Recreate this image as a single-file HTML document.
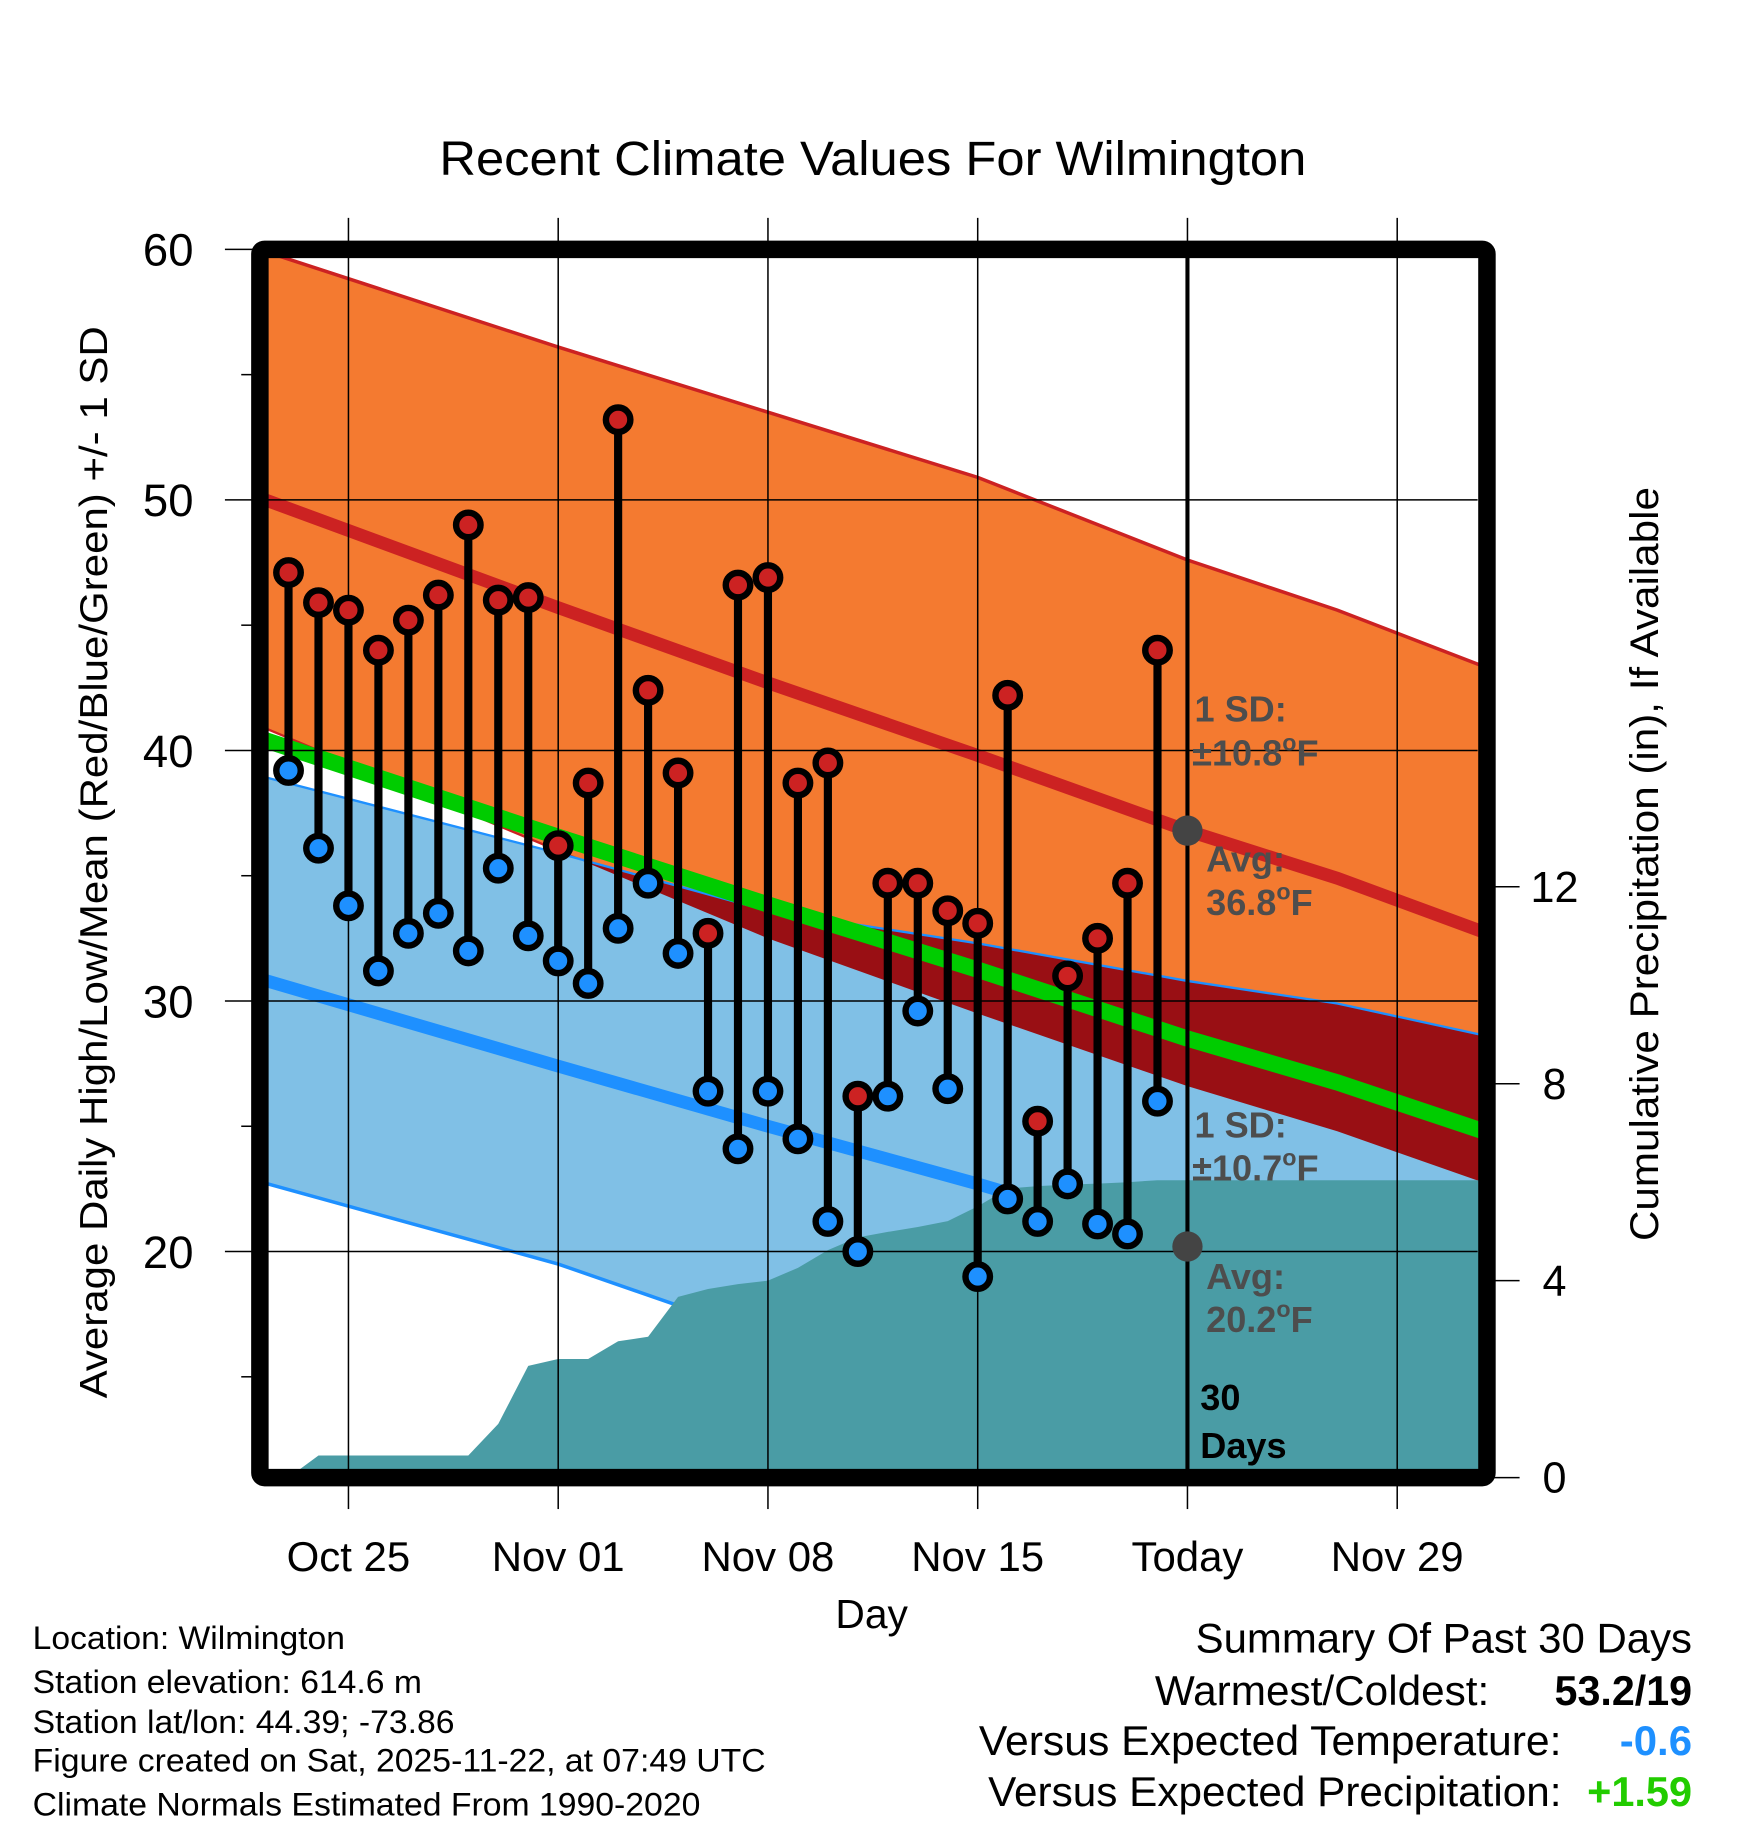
<!DOCTYPE html>
<html><head><meta charset="utf-8"><style>
html,body{margin:0;padding:0;background:#fff}
svg{display:block}
text{font-family:"Liberation Sans",Arial,sans-serif}
</style></head><body>
<svg id="chart" width="1748" height="1828" viewBox="0 0 1500 1568.7" xmlns="http://www.w3.org/2000/svg">
<defs><clipPath id="plotclip"><rect x="230" y="221" width="1039" height="1040"/></clipPath></defs>
<g id="plot" clip-path="url(#plotclip)"></g>
<g id="axes"></g>
<text x="377" y="150" font-size="41" textLength="744" lengthAdjust="spacingAndGlyphs">Recent Climate Values For Wilmington</text>
<text transform="translate(92,1200) rotate(-90)" font-size="33" textLength="920" lengthAdjust="spacingAndGlyphs">Average Daily High/Low/Mean (Red/Blue/Green) +/- 1 SD</text>
<text transform="translate(1423,1065) rotate(-90)" font-size="34" textLength="647" lengthAdjust="spacingAndGlyphs">Cumulative Precipitation (in), If Available</text>
<text x="748" y="1397" font-size="35" text-anchor="middle">Day</text>
<g font-size="31" font-weight="bold" fill="#4d4d4d">
<text x="1025" y="619">1 SD:</text><text x="1023" y="657">±10.8<tspan font-size="20" dy="-13">o</tspan><tspan dy="13">F</tspan></text>
<text x="1035" y="748">Avg:</text><text x="1035" y="785">36.8<tspan font-size="20" dy="-13">o</tspan><tspan dy="13">F</tspan></text>
<text x="1025" y="976">1 SD:</text><text x="1023" y="1013">±10.7<tspan font-size="20" dy="-13">o</tspan><tspan dy="13">F</tspan></text>
<text x="1035" y="1106">Avg:</text><text x="1035" y="1143">20.2<tspan font-size="20" dy="-13">o</tspan><tspan dy="13">F</tspan></text>
<text x="1030" y="1210" fill="#000">30</text><text x="1030" y="1251" fill="#000">Days</text>
</g>
<g font-size="28">
<text x="28" y="1415" textLength="268" lengthAdjust="spacingAndGlyphs">Location: Wilmington</text>
<text x="28" y="1453" textLength="334" lengthAdjust="spacingAndGlyphs">Station elevation: 614.6 m</text>
<text x="28" y="1487" textLength="362" lengthAdjust="spacingAndGlyphs">Station lat/lon: 44.39; -73.86</text>
<text x="28" y="1520" textLength="629" lengthAdjust="spacingAndGlyphs">Figure created on Sat, 2025-11-22, at 07:49 UTC</text>
<text x="28" y="1558" textLength="573" lengthAdjust="spacingAndGlyphs">Climate Normals Estimated From 1990-2020</text>
</g>
<g font-size="36">
<text x="1026" y="1418" textLength="426" lengthAdjust="spacingAndGlyphs">Summary Of Past 30 Days</text>
<text x="991" y="1463" textLength="287" lengthAdjust="spacingAndGlyphs">Warmest/Coldest:</text>
<text x="1334" y="1463" font-weight="bold" textLength="118" lengthAdjust="spacingAndGlyphs">53.2/19</text>
<text x="840" y="1506" textLength="500" lengthAdjust="spacingAndGlyphs">Versus Expected Temperature:</text>
<text x="1390" y="1506" font-weight="bold" fill="#1e90ff" textLength="62" lengthAdjust="spacingAndGlyphs">-0.6</text>
<text x="848" y="1550" textLength="492" lengthAdjust="spacingAndGlyphs">Versus Expected Precipitation:</text>
<text x="1362" y="1550" font-weight="bold" fill="#22cc00" textLength="90" lengthAdjust="spacingAndGlyphs">+1.59</text>
</g>
</svg>
<script>
// ---- data ----
const days = [-2,-1,0,1,2,3,4,5,6,7,8,9,10,11,12,13,14,15,16,17,18,19,20,21,22,23,24,25,26,27];
const highs = [47.1,45.9,45.6,44.0,45.2,46.2,49.0,46.0,46.1,36.2,38.7,53.2,42.4,39.1,32.7,46.6,46.9,38.7,39.5,26.2,34.7,34.7,33.6,33.1,42.2,25.2,31.0,32.5,34.7,44.0];
const lows = [39.2,36.1,33.8,31.2,32.7,33.5,32.0,35.3,32.6,31.6,30.7,32.9,34.7,31.9,26.4,24.1,26.4,24.5,21.2,20.0,26.2,29.6,26.5,19.0,22.1,21.2,22.7,21.1,20.7,26.0];
const precip = [0,0.45,0.45,0.45,0.45,0.45,0.45,1.09,2.27,2.41,2.41,2.77,2.86,3.67,3.83,3.93,4.0,4.26,4.62,4.88,4.99,5.09,5.21,5.51,5.87,5.92,5.95,5.97,6.0,6.04];
const normDays = [-3,7,14,21,28,33,38];
const highUpper = [60.0,56.1,53.5,50.9,47.6,45.6,43.3];
const avgHigh = [50.1,45.7,42.7,39.8,36.8,34.9,32.7];
const highLower = [41.0,36.0,32.5,29.5,26.6,24.8,22.7];
const lowUpper = [39.0,35.9,33.6,32.3,30.8,29.9,28.6];
const avgLow = [30.9,27.4,25.0,22.7,20.2,18.6,16.8];
const lowLower = [22.8,19.5,16.6,14.0,12.0,10.5,9.0];
const xTickDays = [0,7,14,21,28,35];
const xTickLabels = ["Oct 25","Nov 01","Nov 08","Nov 15","Today","Nov 29"];
const yTicks = [60,50,40,30,20];
const yMinorTicks = [55,45,35,25,15];
const pTicks = [0,4,8,12];
const todayDay = 28;
const todayHigh = 36.8, todayLow = 20.2;

// ---- scales ----
const X = d => 299 + d * 25.714;
const Y = t => 214 + (60 - t) * 21.5;
const YP = p => 1268 - p * 42.25;
const NS = 'http://www.w3.org/2000/svg';
const plot = document.getElementById('plot');
const axes = document.getElementById('axes');
function mk(tag, attrs, parent){const e=document.createElementNS(NS,tag);for(const k in attrs)e.setAttribute(k,attrs[k]);parent.appendChild(e);return e;}
function linePts(arr){return normDays.map((d,i)=>X(d)+','+Y(arr[i])).join(' ');}
function bandPts(up,lo){return normDays.map((d,i)=>X(d)+','+Y(up[i])).concat(normDays.slice().reverse().map((d,j)=>{const i=normDays.length-1-j;return X(d)+','+Y(lo[i]);})).join(' ');}

let e;
e = mk('polygon',{points:bandPts(highUpper,highLower),fill:'#f47a30'},plot);


e = mk('polyline',{points:linePts(highUpper),fill:'none',stroke:'#cc2222','stroke-width':3},plot);


e = mk('polyline',{points:linePts(highLower),fill:'none',stroke:'#cc2222','stroke-width':2},plot);


e = mk('polyline',{points:linePts(avgHigh),fill:'none',stroke:'#cc2222','stroke-width':11},plot);


e = mk('polygon',{points:bandPts(lowUpper,lowLower),fill:'#80c0e6'},plot);


const defs = document.querySelector('defs');
const cp = mk('clipPath',{id:'highclip'},defs);
mk('polygon',{points:bandPts(highUpper,highLower)},cp);
e = mk('polygon',{points:bandPts(lowUpper,lowLower),fill:'#990f14','clip-path':'url(#highclip)'},plot);


e = mk('polyline',{points:linePts(lowUpper),fill:'none',stroke:'#1e90ff','stroke-width':2},plot);


e = mk('polyline',{points:linePts(lowLower),fill:'none',stroke:'#1e90ff','stroke-width':3},plot);


e = mk('polyline',{points:linePts(avgLow),fill:'none',stroke:'#1e90ff','stroke-width':11},plot);


let pp = days.map((d,i)=>X(d)+','+YP(precip[i]));
pp.push(X(41)+','+YP(precip[precip.length-1]));
pp.push(X(41)+','+YP(-1)); pp.push(X(days[0])+','+YP(-1));
e = mk('polygon',{points:pp.join(' '),fill:'#4a9ca5'},plot);


const avgMean = avgHigh.map((v,i)=>(v+avgLow[i])/2);
e = mk('polyline',{points:linePts(avgMean),fill:'none',stroke:'#00cc00','stroke-width':14},plot);


xTickDays.forEach(d=>{
  e = mk('line',{x1:X(d),x2:X(d),y1:187,y2:1262,stroke:'#000','stroke-width':1.3},axes);
  
  
  e = mk('line',{x1:X(d),x2:X(d),y1:1275,y2:1295,stroke:'#000','stroke-width':1.3},axes);
  
  
});
yTicks.forEach(t=>{
  e = mk('line',{x1:193,x2:1268,y1:Y(t),y2:Y(t),stroke:'#000','stroke-width':1.3},axes);
  
  
  e = mk('text',{x:166,y:Y(t)+14,'font-size':39,'text-anchor':'end'},axes);
  e.textContent = t;
  
  
});
yMinorTicks.forEach(t=>{
  e = mk('line',{x1:207,x2:217,y1:Y(t),y2:Y(t),stroke:'#000','stroke-width':1.3},axes);
  
  
});
pTicks.forEach(p=>{
  e = mk('line',{x1:1282,x2:1304,y1:YP(p),y2:YP(p),stroke:'#000','stroke-width':1.3},axes);
  
  
  e = mk('text',{x:1334,y:YP(p)+13,'font-size':37,'text-anchor':'middle'},axes);
  e.textContent = p;
  
  
});
xTickDays.forEach((d,i)=>{
  e = mk('text',{x:X(d),y:1348,'font-size':36,'text-anchor':'middle'},axes);
  e.textContent = xTickLabels[i];
  
  
});
e = mk('line',{x1:X(todayDay),x2:X(todayDay),y1:220,y2:1262,stroke:'#000','stroke-width':3.5},axes);


[todayHigh,todayLow].forEach(t=>{
  e = mk('circle',{cx:X(todayDay),cy:Y(t),r:13,fill:'#444'},axes);
  
  
});
days.forEach((d,i)=>{
  const g = mk('g',{},axes);
  
  
  mk('line',{x1:X(d),x2:X(d),y1:Y(highs[i]),y2:Y(lows[i]),stroke:'#000','stroke-width':7},g);
  e = mk('circle',{cx:X(d),cy:Y(highs[i]),r:10.5,fill:'#cc2222',stroke:'#000','stroke-width':5.5},g);
  
  
  e = mk('circle',{cx:X(d),cy:Y(lows[i]),r:10.5,fill:'#1e90ff',stroke:'#000','stroke-width':5.5},g);
  
  
});
e = mk('rect',{x:223,y:214,width:1053,height:1054,fill:'none',stroke:'#000','stroke-width':15,rx:4},axes);


</script>
</body></html>
